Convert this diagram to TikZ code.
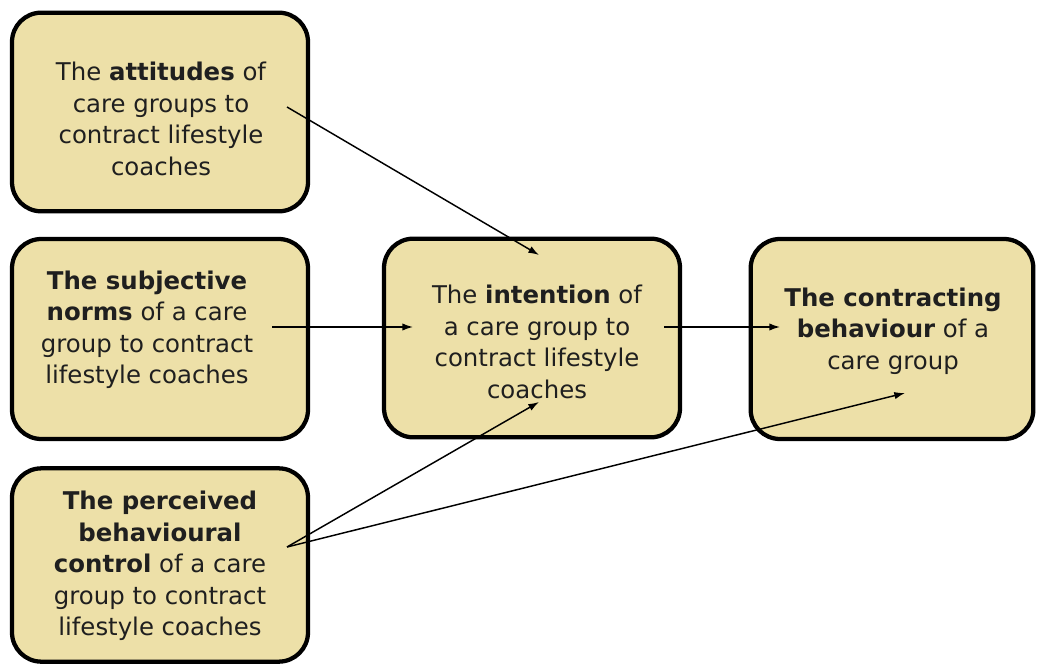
\documentclass[tikz,border=0pt]{standalone}
\usepackage{fontspec}
\setmainfont{DejaVu Sans}
\usetikzlibrary{arrows.meta}
\definecolor{boxfill}{RGB}{237,224,168}
\tikzset{
  x=0.75pt, y=-0.75pt,
  box/.style={draw=black, fill=boxfill, line width=3.2pt, rounded corners=22pt, inner sep=0pt},
  txt/.style={align=center, font=\fontsize{18.3}{23.6}\selectfont, text=black!88, inner sep=0pt},
  arr/.style={line width=1.1pt, -{Latex[length=8pt,width=5.5pt]}}
}
\begin{document}
\begin{tikzpicture}
\useasboundingbox (0,0) rectangle (1037,666);
% boxes
\node[box, minimum width=222pt, minimum height=149pt] (b1) at (160,112) {};
\node[box, minimum width=222pt, minimum height=150pt] (b2) at (160,339) {};
\node[box, minimum width=222pt, minimum height=149pt] (b3) at (532,338) {};
\node[box, minimum width=212pt, minimum height=150pt] (b4) at (892,339) {};
\node[box, minimum width=222pt, minimum height=145pt] (b5) at (160,565) {};
% texts
\node[txt] (t1) at (161,119) {The \textbf{attitudes} of\\care groups to\\contract lifestyle\\coaches};
\node[txt] (t2) at (147,330) {\textbf{The subjective}\\\textbf{norms} of a care\\group to contract\\lifestyle coaches};
\node[txt] (t3) at (537,342) {The \textbf{intention} of\\a care group to\\contract lifestyle\\coaches};
\node[txt] (t4) at (893,331) {\textbf{The contracting}\\\textbf{behaviour} of a\\care group};
\node[txt] (t5) at (160,566) {\textbf{The perceived}\\\textbf{behavioural}\\\textbf{control} of a care\\group to contract\\lifestyle coaches};
% connector end points
\coordinate (s1) at (287,107);
\coordinate (e1) at (539,255);
\coordinate (s2) at (272,327);
\coordinate (e2) at (413,327);
\coordinate (s3) at (664,327);
\coordinate (e3) at (780,327);
\coordinate (s5) at (287,547);
\coordinate (e4) at (539,402);
\coordinate (e5) at (905,393);
% connectors
\draw[arr] (s1) -- (e1);
\draw[arr] (s2) -- (e2);
\draw[arr] (s3) -- (e3);
\draw[arr] (s5) -- (e4);
\draw[arr] (s5) -- (e5);
\end{tikzpicture}
\end{document}
